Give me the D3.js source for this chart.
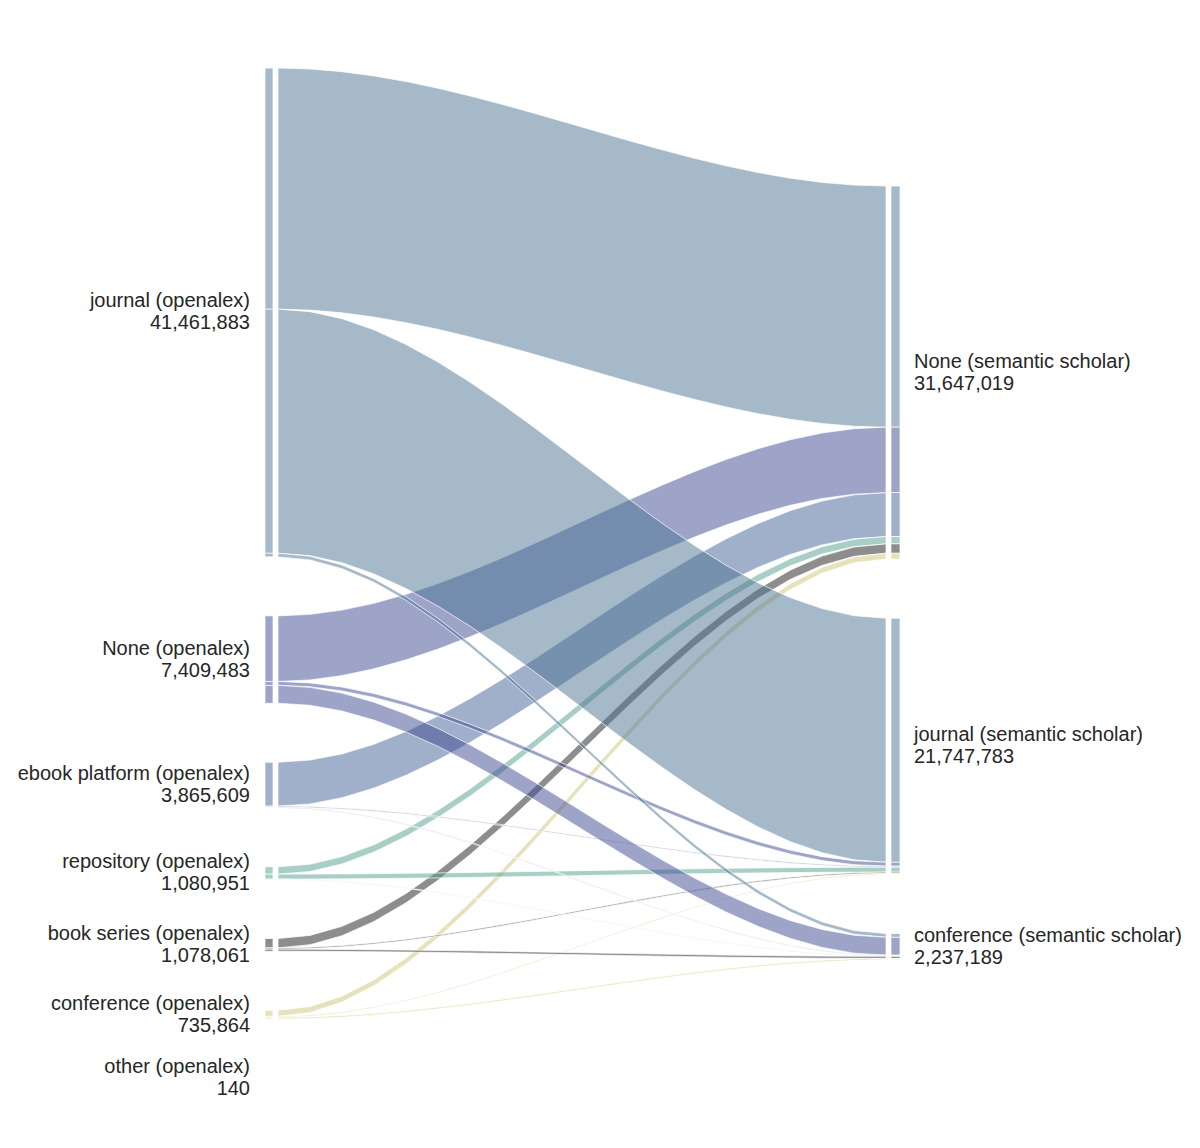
<!DOCTYPE html>
<html>
<head>
<meta charset="utf-8">
<script src="https://cdn.jsdelivr.net/npm/d3@7"></script>
<style>
    body { margin: 0; background: #ffffff; }
    #sankey { width: 1200px; height: 1148px; }
    text { font-family: "Liberation Sans", Arial, sans-serif; font-size: 20px; fill: #262626; }
</style>
</head>
<body>
<div id="sankey"></div>
<script>

// Nodes (left = openalex, right = semantic scholar)
var sources = ['journal (openalex)', 'None (openalex)', 'ebook platform (openalex)',
    'repository (openalex)', 'book series (openalex)', 'conference (openalex)', 'other (openalex)'];
var targets = ['None (semantic scholar)', 'journal (semantic scholar)', 'conference (semantic scholar)'];

// Flow values per source, one array per target
var toNone = [20450000, 5560000, 3720000, 620000, 790000, 507019, 0];
var toJournal = [20700000, 330000, 90000, 420000, 110000, 97783, 0];
var toConference = [311883, 1519483, 55609, 40951, 178061, 131062, 140];

var sourceColors = ['#4b7391', '#3b4991', '#415f95', '#519f8b', '#1c1c1c', '#cdc779', '#8a8a8a'];

var width = 1200;
var height = 1148;

var svg = d3.select('#sankey')
    .append('svg')
    .attr('width', width)
    .attr('height', height);

var flowTable = [toNone, toJournal, toConference];

// links ordered by target, then source (also the drawing order)
var links = [];
flowTable.forEach(function(arr, j) {
    sources.forEach(function(s, i) {
        links.push({ source: i, target: j, value: arr[i] });
    });
});

var sourceTotals = sources.map(function(s, i) {
    return d3.sum(flowTable, function(arr) { return arr[i]; });
});
var targetTotals = flowTable.map(function(arr) { return d3.sum(arr); });

// layout settings
var gap = 59;
var centerY = 573;
var xLeftBar = 265, barWLeft = 8;
var xRightBar = 891, barWRight = 9;
var xFlowStart = 278, xFlowEnd = 886;

var grandTotal = d3.sum(sourceTotals);
var y_scale = d3.scaleLinear()
    .domain([0, grandTotal])
    .range([0, 655.9]);

function stackNodes(totals) {
    var h = y_scale(d3.sum(totals)) + gap * (totals.length - 1);
    var y = centerY - h / 2;
    return totals.map(function(t) {
        var node = { y0: y, y1: y + y_scale(t), value: t };
        y = node.y1 + gap;
        return node;
    });
}

var leftNodes = stackNodes(sourceTotals);
var rightNodes = stackNodes(targetTotals);

// positions of each link within its nodes
var leftOffset = leftNodes.map(function(n) { return n.y0; });
d3.range(sources.length).forEach(function(i) {
    links.filter(function(l) { return l.source == i; })
        .forEach(function(l) {
            l.sy0 = leftOffset[i];
            l.sy1 = l.sy0 + y_scale(l.value);
            leftOffset[i] = l.sy1;
        });
});
var rightOffset = rightNodes.map(function(n) { return n.y0; });
links.forEach(function(l) {
    l.ty0 = rightOffset[l.target];
    l.ty1 = l.ty0 + y_scale(l.value);
    rightOffset[l.target] = l.ty1;
});

// smoothstep curve, sampled coarsely
var x_scale = d3.scaleLinear().domain([0, 1]).range([xFlowStart, xFlowEnd]);
var steps = d3.range(0, 20).map(function(i) { return i / 19; });

function smooth(u) { return 3 * u * u - 2 * u * u * u; }

var line = d3.line().curve(d3.curveLinear);

function flowPath(l) {
    var top = steps.map(function(u) {
        return [x_scale(u), l.sy0 + (l.ty0 - l.sy0) * smooth(u)];
    });
    var bottom = steps.slice().reverse().map(function(u) {
        return [x_scale(u), l.sy1 + (l.ty1 - l.sy1) * smooth(u)];
    });
    return line(top.concat(bottom)) + 'Z';
}

var visibleLinks = links.filter(function(l) { return l.value > 0; });

// Flows
svg.append('g')
    .selectAll('path')
    .data(visibleLinks)
    .enter()
    .append('path')
    .attr('d', flowPath)
    .attr('fill', function(d) { return sourceColors[d.source]; })
    .attr('fill-opacity', 0.5)
    .attr('stroke', '#ffffff')
    .attr('stroke-width', 0.7);

// Node bars, one segment per flow
svg.append('g')
    .selectAll('rect')
    .data(visibleLinks)
    .enter()
    .append('rect')
    .attr('x', xLeftBar)
    .attr('width', barWLeft)
    .attr('y', function(d) { return d.sy0; })
    .attr('height', function(d) { return d.sy1 - d.sy0; })
    .attr('fill', function(d) { return sourceColors[d.source]; })
    .attr('fill-opacity', 0.5)
    .attr('stroke', '#ffffff')
    .attr('stroke-width', 0.7);

svg.append('g')
    .selectAll('rect')
    .data(visibleLinks)
    .enter()
    .append('rect')
    .attr('x', xRightBar)
    .attr('width', barWRight)
    .attr('y', function(d) { return d.ty0; })
    .attr('height', function(d) { return d.ty1 - d.ty0; })
    .attr('fill', function(d) { return sourceColors[d.source]; })
    .attr('fill-opacity', 0.5)
    .attr('stroke', '#ffffff')
    .attr('stroke-width', 0.7);

// Labels
var fmt = d3.format(',');

function addLabels(names, nodes, x, anchor) {
    var g = svg.append('g');
    names.forEach(function(name, i) {
        var c = (nodes[i].y0 + nodes[i].y1) / 2;
        var t = g.append('text')
            .attr('text-anchor', anchor);
        t.append('tspan')
            .attr('x', x)
            .attr('y', c - 5)
            .text(name);
        t.append('tspan')
            .attr('x', x)
            .attr('y', c + 17)
            .text(fmt(nodes[i].value));
    });
}

addLabels(sources, leftNodes, 250, 'end');
addLabels(targets, rightNodes, 914, 'start');

</script>
</body>
</html>
